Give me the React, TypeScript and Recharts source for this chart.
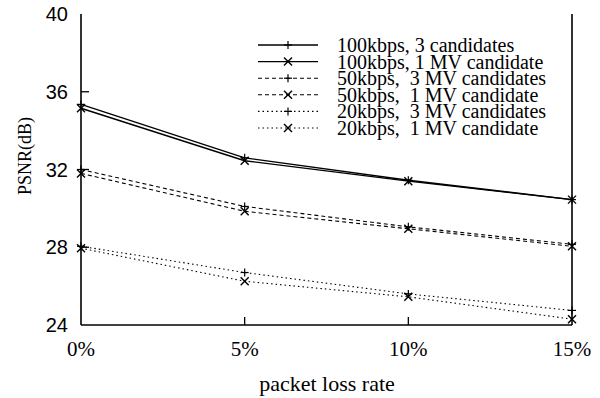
import { Line, LineChart, XAxis, YAxis } from "recharts";

const lossRates = [0, 5, 10, 15];
const psnr100k3 = [35.35, 32.6, 31.45, 30.45];
const psnr100k1 = [35.15, 32.45, 31.4, 30.45];
const psnr50k3 = [32.0, 30.1, 29.05, 28.15];
const psnr50k1 = [31.8, 29.85, 28.95, 28.05];
const psnr20k3 = [28.05, 26.7, 25.6, 24.75];
const psnr20k1 = [27.95, 26.25, 25.45, 24.3];
const yTicks = [24, 28, 32, 36, 40];
const xTicks = [0, 5, 10, 15];

const series = [
  { key: "a", name: "100kbps, 3 candidates", values: psnr100k3, dash: undefined, marker: "plus", width: 1.4 },
  { key: "b", name: "100kbps, 1 MV candidate", values: psnr100k1, dash: undefined, marker: "cross", width: 1.4 },
  { key: "c", name: "50kbps,  3 MV candidates", values: psnr50k3, dash: "4 3", marker: "plus", width: 1.1 },
  { key: "d", name: "50kbps,  1 MV candidate", values: psnr50k1, dash: "4 3", marker: "cross", width: 1.1 },
  { key: "e", name: "20kbps,  3 MV candidates", values: psnr20k3, dash: "1.5 3", marker: "plus", width: 1.1 },
  { key: "f", name: "20kbps,  1 MV candidate", values: psnr20k1, dash: "1.5 3", marker: "cross", width: 1.1 },
];

const data = lossRates.map((loss, i) => {
  const row: Record<string, number> = { loss };
  series.forEach((s) => (row[s.key] = s.values[i]));
  return row;
});

const serif = "'Liberation Serif', 'Times New Roman', serif";
const sans = "'Liberation Sans', Arial, sans-serif";

function Marker({ x, y, type }: { x: number; y: number; type: string }) {
  const r = 4;
  if (type === "plus") {
    return (
      <g stroke="#000" strokeWidth={1.2}>
        <line x1={x - r} y1={y} x2={x + r} y2={y} />
        <line x1={x} y1={y - r} x2={x} y2={y + r} />
      </g>
    );
  }
  return (
    <g stroke="#000" strokeWidth={1.4}>
      <line x1={x - r} y1={y - r} x2={x + r} y2={y + r} />
      <line x1={x - r} y1={y + r} x2={x + r} y2={y - r} />
    </g>
  );
}

function LeftTick(props: any) {
  const { x, y, payload } = props;
  const inner = payload.value !== 24 && payload.value !== 40;
  return (
    <g>
      <text x={x - 13} y={y} textAnchor="end" dominantBaseline="central" fontFamily={sans} fontSize={20} fill="#000">
        {payload.value}
      </text>
      {inner && <line x1={x} y1={y} x2={x + 8} y2={y} stroke="#000" strokeWidth={1.3} />}
    </g>
  );
}

function RightTick(props: any) {
  const { x, y, payload } = props;
  const inner = payload.value !== 24 && payload.value !== 40;
  return inner ? <line x1={x} y1={y} x2={x - 8} y2={y} stroke="#000" strokeWidth={1.3} /> : <g />;
}

function BottomTick(props: any) {
  const { x, y, payload } = props;
  const inner = payload.value !== 0 && payload.value !== 15;
  return (
    <g>
      <text x={x} y={y + 24} textAnchor="middle" dominantBaseline="central" fontFamily={serif} fontSize={21} fill="#000">
        {payload.value}%
      </text>
      {inner && <line x1={x} y1={y} x2={x} y2={y - 8} stroke="#000" strokeWidth={1.3} />}
    </g>
  );
}

function TopTick(props: any) {
  const { x, y, payload } = props;
  const inner = payload.value !== 0 && payload.value !== 15;
  return inner ? <line x1={x} y1={y} x2={x} y2={y + 8} stroke="#000" strokeWidth={1.3} /> : <g />;
}

function LegendBox() {
  return (
    <svg width={340} height={130} style={{ overflow: "visible" }}>
      {series.map((s, i) => {
        const y = 15 + i * 16.6;
        return (
          <g key={s.key}>
            <line x1={8} y1={y} x2={68} y2={y} stroke="#000" strokeWidth={s.width} strokeDasharray={s.dash} />
            <Marker x={38} y={y} type={s.marker} />
            <text x={87} y={y} dominantBaseline="central" fontFamily={serif} fontSize={20} fill="#000" style={{ whiteSpace: "pre" }}>
              {s.name}
            </text>
          </g>
        );
      })}
    </svg>
  );
}

export default function App() {
  return (
    <div style={{ position: "relative", width: 600, height: 398, background: "#fff" }}>
      <style>{"body{margin:0}"}</style>
      <LineChart width={600} height={398} data={data} margin={{ top: 14, right: 0, left: 21, bottom: 43 }}>
        <XAxis
          xAxisId="bottom"
          dataKey="loss"
          type="number"
          domain={[0, 15]}
          ticks={xTicks}
          height={30}
          tickSize={0}
          tickMargin={0}
          axisLine={{ stroke: "#000", strokeWidth: 1.6 }}
          tickLine={false}
          tick={<BottomTick />}
          interval={0}
        />
        <XAxis
          xAxisId="top"
          orientation="top"
          dataKey="loss"
          type="number"
          domain={[0, 15]}
          ticks={xTicks}
          height={0}
          tickSize={0}
          axisLine={{ stroke: "#000", strokeWidth: 1.6 }}
          tickLine={false}
          tick={<TopTick />}
          interval={0}
        />
        <YAxis
          yAxisId="left"
          domain={[24, 40]}
          ticks={yTicks}
          width={60}
          tickSize={0}
          tickMargin={0}
          axisLine={{ stroke: "#000", strokeWidth: 1.6 }}
          tickLine={false}
          tick={<LeftTick />}
          interval={0}
        />
        <YAxis
          yAxisId="right"
          orientation="right"
          domain={[24, 40]}
          ticks={yTicks}
          width={28}
          tickSize={0}
          tickMargin={0}
          axisLine={{ stroke: "#000", strokeWidth: 1.6 }}
          tickLine={false}
          tick={<RightTick />}
          interval={0}
        />
        {series.map((s) => (
          <Line
            key={s.key}
            xAxisId="bottom"
            yAxisId="left"
            type="linear"
            dataKey={s.key}
            name={s.name}
            stroke="#000"
            strokeWidth={s.width}
            strokeDasharray={s.dash}
            isAnimationActive={false}
            dot={(p: any) => (
              <g key={`${s.key}-${p.index}`}>
                <Marker x={p.cx} y={p.cy} type={s.marker} />
              </g>
            )}
            activeDot={false}
          />
        ))}
      </LineChart>
      <div style={{ position: "absolute", left: 250, top: 30 }}>
        <LegendBox />
      </div>
      <div
        style={{
          position: "absolute",
          left: 25,
          top: 156,
          transform: "translate(-50%, -50%) rotate(-90deg)",
          fontFamily: serif,
          fontSize: 18,
          whiteSpace: "nowrap",
        }}
      >
        PSNR(dB)
      </div>
      <div
        style={{
          position: "absolute",
          left: 327,
          top: 384,
          transform: "translate(-50%, -50%)",
          fontFamily: serif,
          fontSize: 22,
          whiteSpace: "nowrap",
        }}
      >
        packet loss rate
      </div>
    </div>
  );
}
